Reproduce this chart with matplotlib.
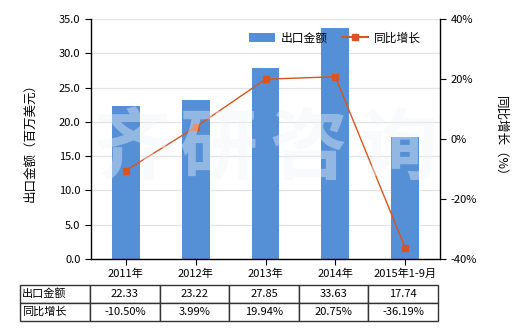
import matplotlib
matplotlib.use("Agg")
import matplotlib.pyplot as plt
from matplotlib.lines import Line2D
from matplotlib.patches import Patch

plt.rcParams['font.family'] = ['Noto Sans CJK SC', 'DejaVu Sans']

categories = ["2011年", "2012年", "2013年", "2014年", "2015年1-9月"]
export_values = [22.33, 23.22, 27.85, 33.63, 17.74]
growth_values = [-10.50, 3.99, 19.94, 20.75, -36.19]
left_ticks = [0, 5, 10, 15, 20, 25, 30, 35]
right_ticks = [-40, -20, 0, 20, 40]
bar_label = "出口金额"
line_label = "同比增长"
left_ylabel = "出口金额（百万美元）"
right_ylabel = "同比增长（%）"
watermark = "齐研咨询"

W, H = 520, 330
fig = plt.figure(figsize=(W / 100, H / 100), dpi=100)
x0, x1, y0, y1 = 91, 440, 19, 259
ax = fig.add_axes([x0 / W, 1 - y1 / H, (x1 - x0) / W, (y1 - y0) / H])

bar_color = "#5590D6"
line_color = "#D9541E"
xs = list(range(len(categories)))

ax.set_axisbelow(True)
ax.yaxis.grid(True, color="#e3e3e3", linewidth=0.9)
ax.bar(xs, export_values, width=0.4, color=bar_color, zorder=2)
ax.set_xlim(-0.5, len(categories) - 0.5)
ax.set_ylim(0, 35)
ax.set_yticks(left_ticks)
ax.set_yticklabels([f"{v:.1f}" for v in left_ticks])
ax.set_xticks(xs)
ax.set_xticklabels(categories)
ax.tick_params(axis="both", labelsize=8, length=4, width=0.8, color="black")
ax.tick_params(axis="x", pad=3)
for s in ["top", "right"]:
    ax.spines[s].set_visible(False)
for s in ["left", "bottom"]:
    ax.spines[s].set_linewidth(1.0)
ax.set_ylabel(left_ylabel, fontsize=9, labelpad=16)

ax2 = ax.twinx()
ax2.plot(xs, growth_values, color=line_color, linewidth=1.0, marker="s",
         markersize=5, markerfacecolor=line_color, markeredgecolor=line_color, zorder=5)
ax2.set_ylim(-40, 40)
ax2.set_yticks(right_ticks)
ax2.set_yticklabels([f"{v}%" for v in right_ticks])
ax2.tick_params(axis="y", labelsize=8, length=4, width=0.8)
for s in ["top", "left", "bottom"]:
    ax2.spines[s].set_visible(False)
ax2.spines["right"].set_linewidth(1.0)
ax2.set_ylabel(right_ylabel, fontsize=9, rotation=270, labelpad=22)

# watermark
wm_x = [132, 218, 308, 398]
for ch, px in zip(watermark, wm_x):
    fig.text(px / W, 1 - 150 / H, ch, fontsize=56, fontweight="bold",
             color="#f0f3f7", alpha=0.4, ha="center", va="center", zorder=10)

handles = [Patch(facecolor=bar_color, edgecolor="none"),
           Line2D([0], [0], color=line_color, marker="s", markersize=4, linewidth=1.5)]
fig.legend(handles, [bar_label, line_label], loc="center left",
           bbox_to_anchor=(238 / W, 1 - 38 / H), ncol=2, frameon=False,
           fontsize=8.5, handlelength=2.2, columnspacing=1.2, handletextpad=0.5)

# table
tax = fig.add_axes([20 / W, 1 - 321 / H, (438 - 20) / W, 36 / H])
tax.axis("off")
rows = [[bar_label] + [f"{v:.2f}" for v in export_values],
        [line_label] + [f"{v:.2f}%" for v in growth_values]]
colw = [70] + [(438 - 90) / 5] * 5
total = sum(colw)
tbl = tax.table(cellText=rows, colWidths=[c / total for c in colw],
                bbox=[0, 0, 1, 1], cellLoc="center")
tbl.auto_set_font_size(False)
for (r, c), cell in tbl.get_celld().items():
    cell.set_linewidth(1.0)
    cell.set_edgecolor("#333333")
    cell.get_text().set_fontsize(8)
    if c == 0:
        cell.get_text().set_ha("left")
        cell._loc = "left"
        cell.PAD = 0.03

fig.savefig("out.png", dpi=100)
